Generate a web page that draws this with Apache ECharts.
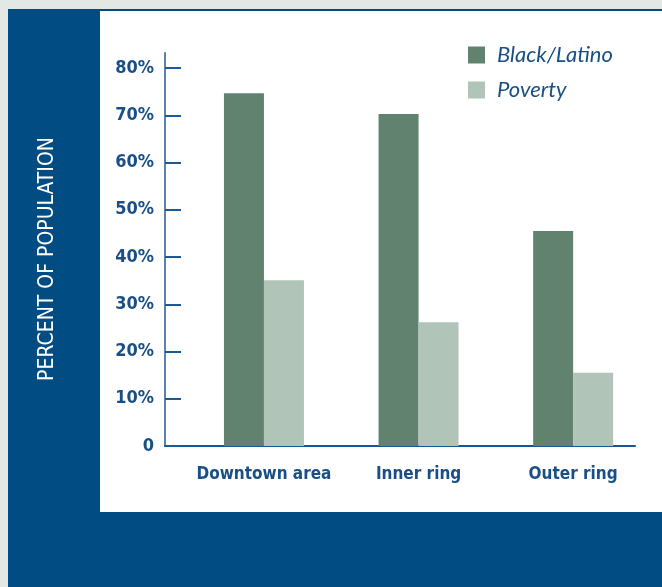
<!DOCTYPE html>
<html><head><meta charset="utf-8">
<script src="https://cdn.jsdelivr.net/npm/echarts@6/dist/echarts.min.js"></script>
<style>html,body{margin:0;padding:0;background:#e2e8e4}#c{width:662px;height:587px}</style>
</head><body><div id="c"></div>
<script>
const categories = ['Downtown area', 'Inner ring', 'Outer ring'];
const blackLatino = [74.7, 70.3, 45.5];
const poverty = [35.1, 26.2, 15.5];
const yTicks = [0, 10, 20, 30, 40, 50, 60, 70, 80];
const yTitle = 'PERCENT OF POPULATION';

const chart = echarts.init(document.getElementById('c'), null, {renderer: 'canvas'});
const textBlue = '#1a4f86';
const narrow = '"DejaVu Sans Condensed", "Liberation Sans Narrow", sans-serif';
chart.setOption({
  animation: false,
  backgroundColor: '#e2e8e4',
  graphic: [
    {type: 'rect', shape: {x: 8, y: 9, width: 662, height: 600}, style: {fill: '#024c84'}, z: -10},
    {type: 'rect', shape: {x: 100, y: 11, width: 570, height: 501}, style: {fill: '#ffffff'}, z: -9},
    {type: 'text', x: 48, y: 259, rotation: Math.PI / 2,
     style: {text: yTitle, fill: '#ffffff', font: '21px "DejaVu Sans Condensed", sans-serif',
             align: 'center', verticalAlign: 'middle'}}
  ],
  grid: {left: 165, top: 53, right: 27, bottom: 141, containLabel: false},
  legend: {
    orient: 'vertical', left: 463, top: 39, itemWidth: 17, itemHeight: 17, itemGap: 13,
    icon: 'rect',
    textStyle: {fontFamily: 'Lato, sans-serif', fontStyle: 'italic', fontSize: 22, color: textBlue, padding: [0, 0, 0, 7]},
    data: ['Black/Latino', 'Poverty']
  },
  xAxis: {
    type: 'value', min: -0.64, max: 2.4,
    splitLine: {show: false},
    axisLine: {show: true, lineStyle: {color: '#16559a', width: 2}},
    axisTick: {show: false},
    axisLabel: {
      customValues: [0, 1, 2],
      formatter: v => categories[Math.round(v)],
      margin: 20, fontFamily: narrow, fontWeight: 'bold', fontSize: 17, color: textBlue
    }
  },
  yAxis: {
    type: 'value', min: 0, max: 83.2, interval: 10,
    splitLine: {show: false},
    axisLine: {show: true, onZero: false, lineStyle: {color: '#5a82aa', width: 2}},
    axisTick: {show: true, inside: true, length: 16, customValues: yTicks, lineStyle: {color: '#1d5a93', width: 2}},
    axisLabel: {customValues: yTicks, formatter: v => v === 0 ? '0' : v + '%', margin: 11,
      fontFamily: narrow, fontWeight: 'bold', fontSize: 18, color: textBlue}
  },
  series: [
    {name: 'Black/Latino', type: 'bar', barWidth: 40, barGap: '0%', itemStyle: {color: '#628270'},
     data: blackLatino.map((v, i) => [i, v])},
    {name: 'Poverty', type: 'bar', barWidth: 40, barGap: '0%', itemStyle: {color: '#b0c4b8'},
     data: poverty.map((v, i) => [i, v])}
  ]
});
</script></body></html>
